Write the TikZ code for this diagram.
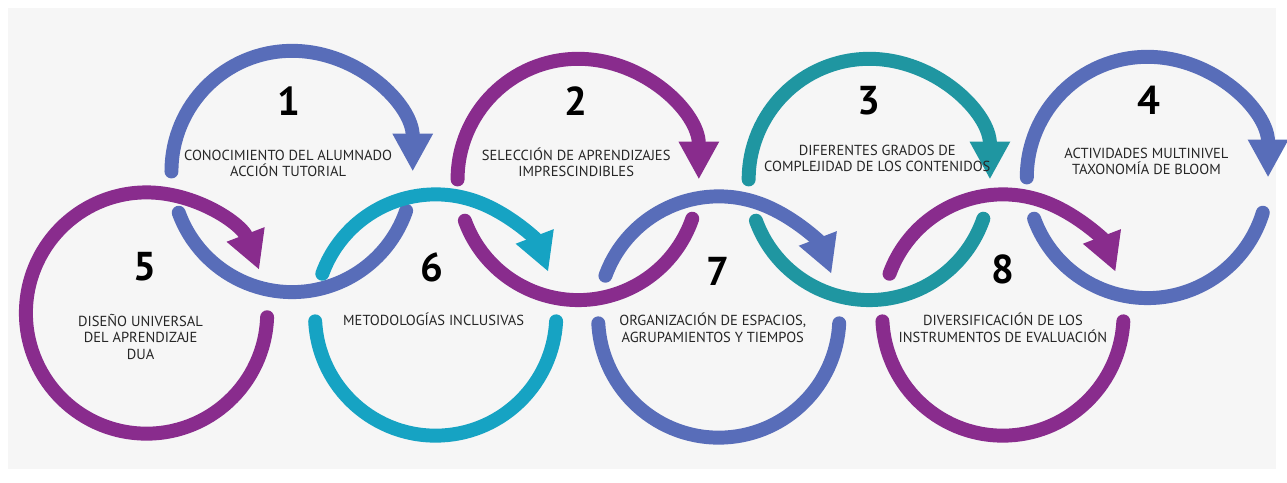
\documentclass[tikz,border=0pt]{standalone}
\usepackage{fontspec}
\setmainfont{PT Sans}
\usetikzlibrary{arrows.meta}

\definecolor{ringblue}{RGB}{88,109,185}
\definecolor{ringpurple}{RGB}{137,44,141}
\definecolor{ringteal}{RGB}{31,150,161}
\definecolor{ringcyan}{RGB}{22,163,195}
\definecolor{paper}{RGB}{246,246,246}
\newcommand{\R}{121}

\begin{document}
\begin{tikzpicture}[x=0.02cm,y=0.02cm]
\tikzstyle{ring}=[line width=0.28cm, line cap=round]
\tikzstyle{tip}=[-{Triangle[width=0.76cm,length=0.76cm]}]
\tikzstyle{num}=[font=\fontsize{23}{23}\selectfont\bfseries, inner sep=0pt]
\tikzstyle{txt}=[font=\fontsize{8.3}{9.4}\selectfont, align=center, text=black!85, inner sep=0pt]

\fill[white] (0,0) rectangle (1287,484);
\fill[paper] (8,14) rectangle (1280,476);

\coordinate (C1) at (293,312);
\coordinate (C2) at (580,304);
\coordinate (C3) at (872,304);
\coordinate (C4) at (1151,306);
\coordinate (C5) at (147,170);
\coordinate (C6) at (437,168);
\coordinate (C7) at (721,166);
\coordinate (C8) at (1006,168);

% upper row
\draw[ring,tip,ringblue] ([shift={(180:\R)}]C1) arc[start angle=180,end angle=0,radius=\R];
\draw[ring,ringblue] ([shift={(200:\R)}]C1) arc[start angle=200,end angle=341,radius=\R];
\draw[ring,tip,ringpurple] ([shift={(180:\R)}]C2) arc[start angle=180,end angle=0,radius=\R];
\draw[ring,ringpurple] ([shift={(200:\R)}]C2) arc[start angle=200,end angle=341,radius=\R];
\draw[ring,tip,ringteal] ([shift={(180:\R)}]C3) arc[start angle=180,end angle=0,radius=\R];
\draw[ring,ringteal] ([shift={(200:\R)}]C3) arc[start angle=200,end angle=341,radius=\R];
\draw[ring,tip,ringblue] ([shift={(180:\R)}]C4) arc[start angle=180,end angle=0,radius=\R];
\draw[ring,ringblue] ([shift={(200:\R)}]C4) arc[start angle=200,end angle=343,radius=\R];

% lower row
\draw[ring,tip,ringpurple] ([shift={(-2:\R)}]C5) arc[start angle=-2,end angle=-339,radius=\R];
\draw[ring,tip,ringcyan] ([shift={(160:\R)}]C6) arc[start angle=160,end angle=21,radius=\R];
\draw[ring,ringcyan] ([shift={(183:\R)}]C6) arc[start angle=183,end angle=357,radius=\R];
\draw[ring,tip,ringblue] ([shift={(160:\R)}]C7) arc[start angle=160,end angle=21,radius=\R];
\draw[ring,ringblue] ([shift={(183:\R)}]C7) arc[start angle=183,end angle=357,radius=\R];
\draw[ring,tip,ringpurple] ([shift={(160:\R)}]C8) arc[start angle=160,end angle=21,radius=\R];
\draw[ring,ringpurple] ([shift={(183:\R)}]C8) arc[start angle=183,end angle=357,radius=\R];

\node[num] (n1) at (290,383) {1};
\node[num] (n2) at (578,383) {2};
\node[num] (n3) at (872,383) {3};
\node[num] (n4) at (1152,383) {4};
\node[num] (n5) at (145,216) {5};
\node[num] (n6) at (433,216) {6};
\node[num] (n7) at (720,212) {7};
\node[num] (n8) at (1006,214) {8};

\node[txt] (t1) at (289,320) {CONOCIMIENTO DEL ALUMNADO\\ACCIÓN TUTORIAL};
\node[txt] (t2) at (578,321) {SELECCIÓN DE APRENDIZAJES\\IMPRESCINDIBLES};
\node[txt] (t3) at (880,325) {DIFERENTES GRADOS DE\\COMPLEJIDAD DE LOS CONTENIDOS};
\node[txt] (t4) at (1150,322) {ACTIVIDADES MULTINIVEL\\TAXONOMÍA DE BLOOM};
\node[txt] (t5) at (141,146) {DISEÑO UNIVERSAL\\DEL APRENDIZAJE\\DUA};
\node[txt] (t6) at (435,164) {METODOLOGÍAS INCLUSIVAS};
\node[txt] (t7) at (715,155) {ORGANIZACIÓN DE ESPACIOS,\\AGRUPAMIENTOS Y TIEMPOS};
\node[txt] (t8) at (1006,155) {DIVERSIFICACIÓN DE LOS\\INSTRUMENTOS DE EVALUACIÓN};
\end{tikzpicture}
\end{document}
